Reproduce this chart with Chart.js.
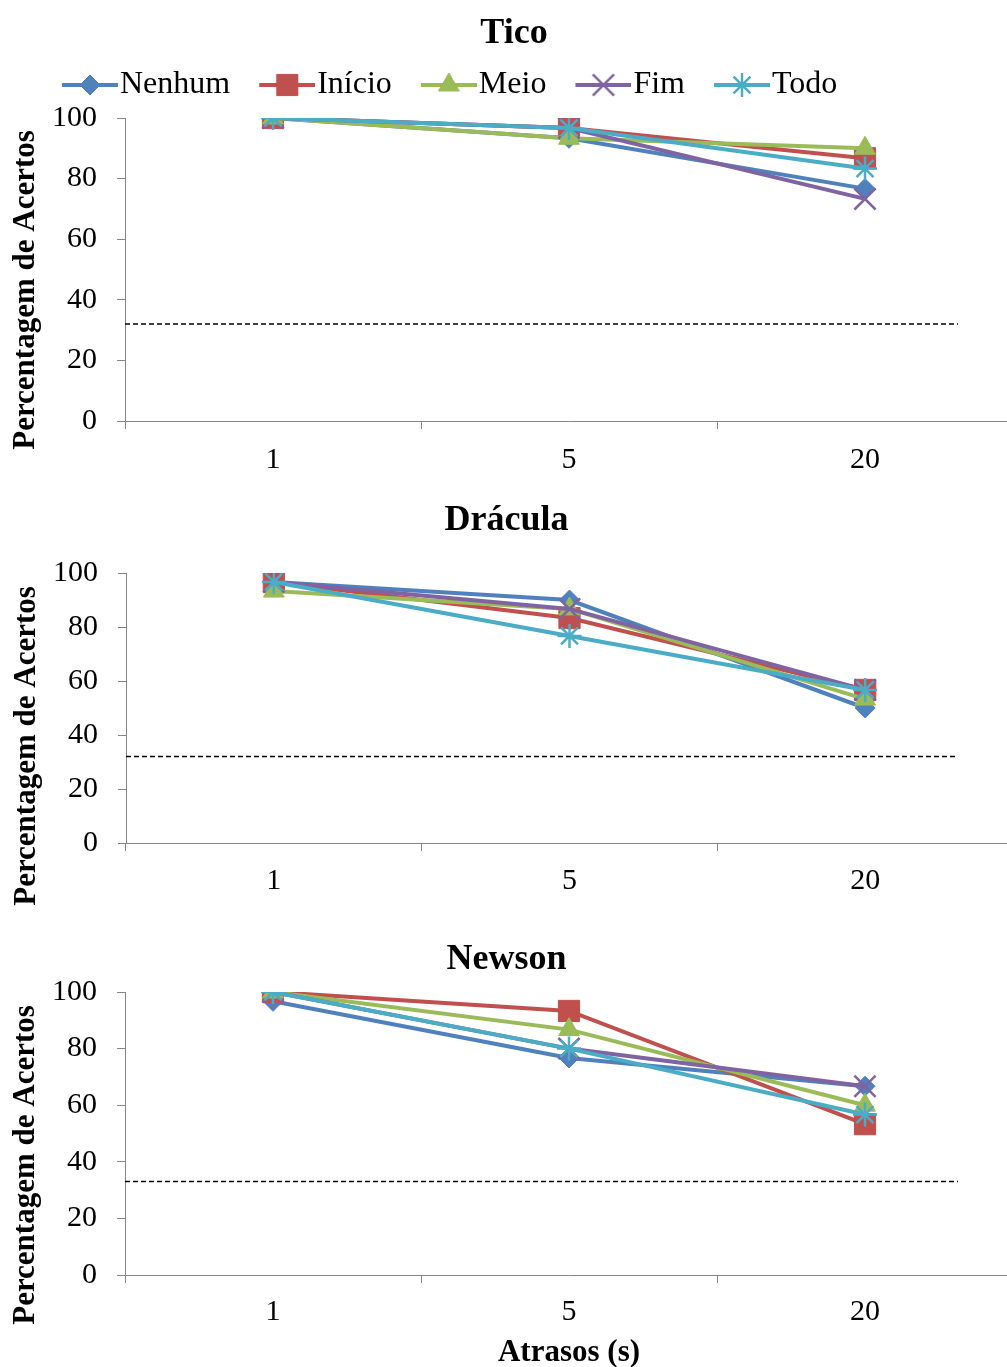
<!DOCTYPE html>
<html><head><meta charset="utf-8">
<script src="https://cdn.jsdelivr.net/npm/chart.js@4.4.1/dist/chart.umd.min.js"></script>
<style>
html,body{margin:0;padding:0;background:#fff;overflow:hidden;width:1007px;height:1367px;}
canvas{position:absolute;left:0;}
</style></head><body>
<canvas id="c1" width="1013" height="480" style="top:0px"></canvas>
<canvas id="c2" width="1013" height="430" style="top:480px"></canvas>
<canvas id="c3" width="1013" height="457" style="top:910px"></canvas>
<script>
// ---------- data ----------
const categories = ['1', '5', '20'];
const seriesNames = ['Nenhum', 'Início', 'Meio', 'Fim', 'Todo'];
const panelTitles = ['Tico\u00a0\u00a0', 'Drácula', 'Newson'];
const yTicks = [0, 20, 40, 60, 80, 100];
const chanceLevels = [32, 32, 33];

const ticoNenhum = [100, 93.3, 76.7];
const ticoInicio = [100, 96.7, 86.7];
const ticoMeio   = [100, 93.3, 90];
const ticoFim    = [100, 96.7, 73.3];
const ticoTodo   = [100, 96.7, 83.3];

const draculaNenhum = [96.7, 90, 50];
const draculaInicio = [96.7, 83.3, 56.7];
const draculaMeio   = [93.3, 86.7, 53.3];
const draculaFim    = [96.7, 86.7, 56.7];
const draculaTodo   = [96.7, 76.7, 56.7];

const newsonNenhum = [96.7, 76.7, 66.7];
const newsonInicio = [100, 93.3, 53.3];
const newsonMeio   = [100, 86.7, 60];
const newsonFim    = [100, 80, 66.7];
const newsonTodo   = [100, 80, 56.7];

const panelSeries = [
  [ticoNenhum, ticoInicio, ticoMeio, ticoFim, ticoTodo],
  [draculaNenhum, draculaInicio, draculaMeio, draculaFim, draculaTodo],
  [newsonNenhum, newsonInicio, newsonMeio, newsonFim, newsonTodo]
];

// ---------- styles ----------
const F = "'Liberation Serif', 'Times New Roman', serif";
const styles = [
  {color: '#4F81BD', pointStyle: 'rectRot', radius: 10, bw: 1},
  {color: '#C0504D', pointStyle: 'rect', radius: 15, bw: 1},
  {color: '#9BBB59', pointStyle: 'triangle', radius: 12, bw: 1},
  {color: '#8064A2', pointStyle: 'crossRot', radius: 15, bw: 2.5},
  {color: '#4BACC6', pointStyle: 'star', radius: 12, bw: 2.5}
];
const dashEnd = 0.938;

Chart.defaults.font.family = F;

function makeIcon(st) {
  const c = document.createElement('canvas');
  c.width = 90; c.height = 32;
  const g = c.getContext('2d');
  g.strokeStyle = st.color; g.lineWidth = 4;
  g.beginPath(); g.moveTo(34, 16); g.lineTo(90, 16); g.stroke();
  g.fillStyle = st.color; g.strokeStyle = st.color; g.lineWidth = st.bw;
  Chart.helpers.drawPoint(g, {pointStyle: st.pointStyle, radius: st.radius, borderWidth: st.bw, rotation: 0}, 62, 16);
  return c;
}
const icons = styles.map(makeIcon);

const yTitlePlugin = {
  id: 'yTitle',
  afterDraw(chart, args, opts) {
    const {ctx, chartArea} = chart;
    ctx.save();
    ctx.font = 'bold 31px ' + F;
    ctx.fillStyle = '#000';
    ctx.textAlign = 'center';
    ctx.textBaseline = 'middle';
    ctx.translate(opts.x, (chartArea.top + chartArea.bottom) / 2 + opts.dy);
    ctx.rotate(-Math.PI / 2);
    ctx.fillText(opts.text, 0, 0);
    ctx.restore();
  }
};

const panels = [
  {id: 'c1', padLeft: 33, yW: 92, tPad: {top: 12.4, bottom: 4.4}, legend: true, xH: 59, tickPad: 13, ytx: 26, ytdy: 20.5, xTitle: false},
  {id: 'c2', padLeft: 0, yW: 126, tPad: {top: 19.4, bottom: 30.4}, legend: false, xH: 67, tickPad: 12, ytx: 27, ytdy: 38, xTitle: false},
  {id: 'c3', padLeft: 0, yW: 125, tPad: {top: 28.4, bottom: 10.4}, legend: false, xH: 92, tickPad: 11, ytx: 26, ytdy: 31.5, xTitle: true}
];

panels.forEach((p, pi) => {
  const datasets = panelSeries[pi].map((vals, si) => ({
    label: seriesNames[si],
    data: vals,
    xAxisID: 'x', yAxisID: 'y',
    borderColor: styles[si].color,
    backgroundColor: styles[si].color,
    borderWidth: 4,
    pointStyle: styles[si].pointStyle,
    pointRadius: styles[si].radius,
    pointBorderWidth: styles[si].bw,
    pointBackgroundColor: styles[si].color,
    pointBorderColor: styles[si].color,
    tension: 0,
    order: 4 - si
  }));
  datasets.push({
    label: 'chance',
    data: [{x: 0, y: chanceLevels[pi]}, {x: dashEnd, y: chanceLevels[pi]}],
    xAxisID: 'xl', yAxisID: 'y',
    borderColor: '#000', borderWidth: 1.5, borderDash: [5, 3],
    pointRadius: 0, order: 10
  });

  const scales = {
    x: {
      type: 'category', labels: categories, offset: true,
      grid: {offset: true, drawOnChartArea: false, drawTicks: true, tickLength: 8, color: '#868686'},
      border: {color: '#868686', width: 1},
      ticks: {color: '#000', font: {family: F, size: 30}, padding: p.tickPad, maxRotation: 0, autoSkip: false},
      title: {display: p.xTitle, text: 'Atrasos (s)', color: '#000', font: {family: F, size: 31, weight: 'bold'}, padding: {top: 0, bottom: -5}},
      afterFit(s) { s.height = p.xH; }
    },
    xl: {type: 'linear', display: false, min: 0, max: 1},
    y: {
      type: 'linear', min: 0, max: 100,
      afterBuildTicks(s) { s.ticks = yTicks.map(v => ({value: v})); },
      grid: {drawOnChartArea: false, drawTicks: true, tickLength: 8, color: '#868686'},
      border: {color: '#868686', width: 1},
      ticks: {color: '#000', font: {family: F, size: 30}, padding: 20, autoSkip: false},
      afterFit(s) { s.width = p.yW; }
    }
  };
  if (p.legend) {
    scales.xTop = {
      type: 'category', labels: categories, position: 'top', display: true,
      grid: {display: false}, border: {display: false}, ticks: {display: false},
      afterFit(s) { s.height = 7; }
    };
  }

  new Chart(document.getElementById(p.id), {
    type: 'line',
    data: {labels: categories, datasets},
    options: {
      responsive: false, animation: false, events: [],
      layout: {autoPadding: false, padding: {left: p.padLeft, top: 0, right: 0, bottom: 0}},
      scales,
      plugins: {
        tooltip: {enabled: false},
        title: {display: true, text: panelTitles[pi], color: '#000', font: {family: F, size: 36, weight: 'bold'}, padding: p.tPad},
        legend: {
          display: p.legend, position: 'top', align: 'start',
          labels: {
            usePointStyle: true, pointStyleWidth: 62, padding: 9, color: '#000',
            font: {family: F, size: 32},
            filter: it => it.datasetIndex < 5,
            sort: (a, b) => a.datasetIndex - b.datasetIndex,
            generateLabels(chart) {
              const items = Chart.defaults.plugins.legend.labels.generateLabels(chart);
              items.forEach(it => { if (it.datasetIndex < 5) it.pointStyle = icons[it.datasetIndex]; });
              return items;
            }
          }
        },
        yTitle: {text: 'Percentagem de Acertos', x: p.ytx, dy: p.ytdy}
      }
    },
    plugins: [yTitlePlugin]
  });
});
</script>
</body></html>
